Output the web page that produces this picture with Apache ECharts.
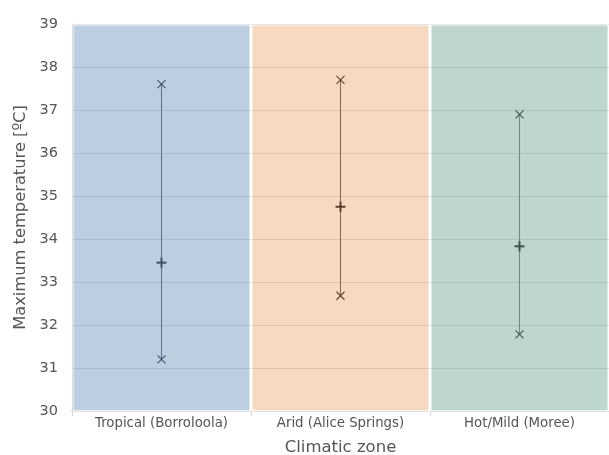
<!DOCTYPE html>
<html><head><meta charset="utf-8">
<script src="https://cdn.jsdelivr.net/npm/echarts@6/dist/echarts.min.js"></script>
<style>html,body{margin:0;padding:0;background:#fff}#c{width:609px;height:455px}</style>
</head><body><div id="c"></div>
<script>
const categories = ['Tropical (Borroloola)', 'Arid (Alice Springs)', 'Hot/Mild (Moree)'];
const maxTemp = [37.6, 37.7, 36.9];
const meanTemp = [33.45, 34.75, 33.83];
const minTemp = [31.2, 32.68, 31.78];
const bandTop = [39, 39, 39];
const yTicks = [30, 31, 32, 33, 34, 35, 36, 37, 38, 39];

const bandColors = ['#bccfe0', '#f7d8c0', '#bed6cc'];
const lineColors = ['#5e7690', '#8c6b52', '#6c8c80'];
const markColors = ['#3e5066', '#5a4030', '#3d5248'];

const chart = echarts.init(document.getElementById('c'));
const FONT = 'DejaVu Sans';
chart.setOption({
  animation: false,
  grid: {left: 72, right: 0, top: 24, bottom: 44, containLabel: false, outerBoundsMode: 'none'},
  xAxis: {
    type: 'category', data: categories,
    name: 'Climatic zone', nameLocation: 'middle', nameGap: 28,
    nameTextStyle: {fontFamily: FONT, fontSize: 16.5, color: '#555'},
    axisLine: {lineStyle: {color: '#d6d6d6', width: 2}},
    axisTick: {show: true, length: 5, lineStyle: {color: '#d6d6d6'}},
    axisLabel: {fontFamily: FONT, fontSize: 13.3, color: '#555', margin: 6}
  },
  yAxis: {
    type: 'value', min: yTicks[0], max: yTicks[yTicks.length - 1], interval: 1,
    z: 5,
    name: 'Maximum temperature [ºC]', nameLocation: 'middle', nameGap: 40,
    nameTextStyle: {fontFamily: FONT, fontSize: 16.3, color: '#555'},
    axisLine: {show: true, lineStyle: {color: '#dcdcdc', width: 1}},
    axisTick: {show: false},
    axisLabel: {fontFamily: FONT, fontSize: 14.5, color: '#555', margin: 14},
    splitLine: {show: true, lineStyle: {color: 'rgba(60,70,80,0.13)', width: 1.2}}
  },
  series: [
    {
      type: 'bar', barCategoryGap: '0%', silent: true,
      data: bandTop.map((v, i) => ({value: v, itemStyle: {color: bandColors[i], borderColor: '#fff', borderWidth: 1.5}})),
      z: 1
    },
    {
      type: 'custom', z: 10,
      data: categories.map((c, i) => [i, minTemp[i], maxTemp[i], meanTemp[i]]),
      renderItem: function (params, api) {
        const i = api.value(0);
        const pMin = api.coord([i, api.value(1)]);
        const pMax = api.coord([i, api.value(2)]);
        const pMean = api.coord([i, api.value(3)]);
        const x = pMin[0];
        const s = 4;
        const xs = (p) => [
          {type: 'line', shape: {x1: p[0] - s, y1: p[1] - s, x2: p[0] + s, y2: p[1] + s}, style: {stroke: markColors[i], lineWidth: 1.1}},
          {type: 'line', shape: {x1: p[0] - s, y1: p[1] + s, x2: p[0] + s, y2: p[1] - s}, style: {stroke: markColors[i], lineWidth: 1.1}}
        ];
        return {
          type: 'group',
          children: [
            {type: 'line', shape: {x1: x, y1: pMax[1], x2: x, y2: pMin[1]}, style: {stroke: lineColors[i], lineWidth: 1.1}},
            ...xs(pMax), ...xs(pMin),
            {type: 'line', shape: {x1: x - 5, y1: pMean[1], x2: x + 5, y2: pMean[1]}, style: {stroke: markColors[i], lineWidth: 2}},
            {type: 'line', shape: {x1: x, y1: pMean[1] - 5, x2: x, y2: pMean[1] + 5}, style: {stroke: markColors[i], lineWidth: 2}}
          ]
        };
      }
    }
  ]
});
</script></body></html>
